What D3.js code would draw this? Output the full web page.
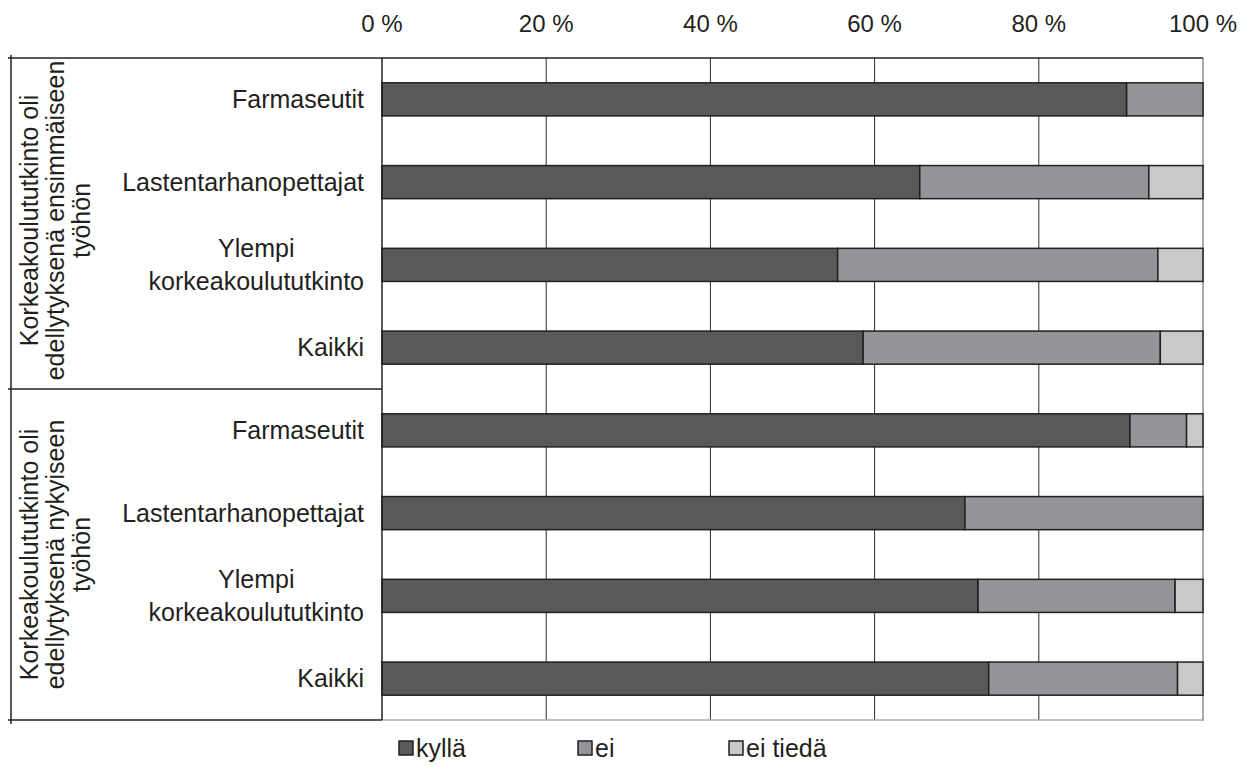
<!DOCTYPE html>
<html>
<head>
<meta charset="utf-8">
<script src="https://cdn.jsdelivr.net/npm/d3@7"></script>
<style>
  html, body { margin: 0; padding: 0; background: #fff; }
  svg { display: block; font-family: "Liberation Sans", Arial, Helvetica, sans-serif; }
</style>
</head>
<body>
<svg id="chart" width="1247" height="767"></svg>
<script>
// ---- data ----
const categories = [
  "Farmaseutit", "Lastentarhanopettajat", "Ylempi\nkorkeakoulututkinto", "Kaikki",
  "Farmaseutit", "Lastentarhanopettajat", "Ylempi\nkorkeakoulututkinto", "Kaikki"
];
const groupLabels = [
  ["Korkeakoulututkinto oli", "edellytyksenä ensimmäiseen", "työhön"],
  ["Korkeakoulututkinto oli", "edellytyksenä nykyiseen", "työhön"]
];
const seriesNames = ["kyllä", "ei", "ei tiedä"];
const kylla   = [90.7, 65.5, 55.5, 58.6, 91.1, 71.0, 72.6, 73.9];
const ei      = [ 9.3, 27.9, 39.0, 36.2,  6.9, 29.0, 24.0, 23.0];
const eiTieda = [ 0.0,  6.6,  5.5,  5.2,  2.0,  0.0,  3.4,  3.1];
const tickValues = [0, 20, 40, 60, 80, 100];
const tickLabels = ["0 %", "20 %", "40 %", "60 %", "80 %", "100 %"];
const colors = ["#58595b", "#939598", "#c8c9cb"];

// ---- layout ----
const svg = d3.select("#chart");
const plotL = 382, plotR = 1203, plotT = 58, plotB = 720;
const boxL = 11;
const rows = categories.map((c, i) => i);

const x = d3.scaleLinear().domain([0, 100]).range([plotL, plotR]);
const y = d3.scaleBand().domain(rows).range([plotT, plotB]).paddingInner(0.6).paddingOuter(0.3);

const table = rows.map(i => ({ i, cat: categories[i], vals: [kylla[i], ei[i], eiTieda[i]] }));
const stack = d3.stack().keys([0, 1, 2]).value((d, k) => d.vals[k]);
const stacked = stack(table);

// gridlines
svg.append("g").selectAll("line")
  .data(tickValues.filter(v => v > 0 && v < 100))
  .join("line")
  .attr("x1", d => x(d)).attr("x2", d => x(d))
  .attr("y1", plotT).attr("y2", plotB)
  .attr("stroke", "#2b2b2b").attr("stroke-width", 1);

// right and bottom border of plot (light gray)
svg.append("line").attr("x1", x(100)).attr("x2", x(100)).attr("y1", plotT).attr("y2", plotB + 1)
  .attr("stroke", "#a7a9ac").attr("stroke-width", 2);
svg.append("line").attr("x1", plotL).attr("x2", plotR).attr("y1", plotB).attr("y2", plotB)
  .attr("stroke", "#a7a9ac").attr("stroke-width", 1.5);

// bars
svg.append("g").selectAll("g")
  .data(stacked)
  .join("g")
  .attr("fill", (d, k) => colors[k])
  .selectAll("rect")
  .data(d => d.filter(s => s[1] - s[0] > 0))
  .join("rect")
  .attr("x", d => x(d[0]))
  .attr("width", d => x(d[1]) - x(d[0]))
  .attr("y", d => y(d.data.i))
  .attr("height", y.bandwidth())
  .attr("stroke", "#231f20")
  .attr("stroke-width", 1.5);

// left edge & top border
svg.append("line").attr("x1", plotL).attr("x2", plotL).attr("y1", plotT).attr("y2", plotB)
  .attr("stroke", "#231f20").attr("stroke-width", 1.5);
svg.append("line").attr("x1", boxL - 3).attr("x2", plotR).attr("y1", plotT).attr("y2", plotT)
  .attr("stroke", "#231f20").attr("stroke-width", 1.5);

// label box
const midY = (y(3) + y.bandwidth() + y(4)) / 2;
svg.append("line").attr("x1", boxL).attr("x2", boxL).attr("y1", plotT - 3).attr("y2", plotB + 4)
  .attr("stroke", "#231f20").attr("stroke-width", 1.5);
[midY, plotB].forEach(yy => {
  svg.append("line").attr("x1", boxL - 3).attr("x2", plotL).attr("y1", yy).attr("y2", yy)
    .attr("stroke", "#231f20").attr("stroke-width", 1.5);
});

// top axis labels
svg.append("g").selectAll("text")
  .data(tickValues)
  .join("text")
  .attr("x", d => x(d))
  .attr("y", 32)
  .attr("text-anchor", "middle")
  .attr("font-size", 24)
  .attr("fill", "#231f20")
  .text((d, i) => tickLabels[i]);

// category labels
const labelRight = 364;
const catG = svg.append("g");
table.forEach(d => {
  const lines = d.cat.split("\n");
  const cy = y(d.i) + y.bandwidth() / 2;
  const t = catG.append("text")
    .attr("font-size", 25)
    .attr("fill", "#231f20");
  if (lines.length === 1) {
    t.attr("x", labelRight).attr("y", cy + 8.5).attr("text-anchor", "end").text(lines[0]);
  } else {
    const tmp = catG.append("text").attr("font-size", 25);
    const widths = lines.map(l => { tmp.text(l); return tmp.node().getComputedTextLength(); });
    tmp.remove();
    const maxW = d3.max(widths);
    const cx = labelRight - maxW / 2;
    t.attr("text-anchor", "middle");
    lines.forEach((l, j) => {
      t.append("tspan").attr("x", cx).attr("y", cy + 8.5 + (j - (lines.length - 1) / 2) * 33).text(l);
    });
  }
});

// group labels (rotated)
const groupCenters = [(plotT + midY) / 2 - 3, (midY + plotB) / 2];
groupLabels.forEach((lines, gi) => {
  const g = svg.append("g").attr("transform", `translate(0,${groupCenters[gi]}) rotate(-90)`);
  lines.forEach((l, j) => {
    g.append("text")
      .attr("x", 0)
      .attr("y", 37.5 + j * 26)
      .attr("text-anchor", "middle")
      .attr("font-size", 25)
      .attr("fill", "#231f20")
      .text(l);
  });
});

// legend
const legendX = [399, 578, 729];
const legend = svg.append("g");
seriesNames.forEach((name, k) => {
  legend.append("rect")
    .attr("x", legendX[k]).attr("y", 741)
    .attr("width", 14).attr("height", 14)
    .attr("fill", colors[k]).attr("stroke", "#231f20").attr("stroke-width", 1.5);
  legend.append("text")
    .attr("x", legendX[k] + 17).attr("y", 757)
    .attr("font-size", 25)
    .attr("fill", "#231f20")
    .text(name);
});
</script>
</body>
</html>
